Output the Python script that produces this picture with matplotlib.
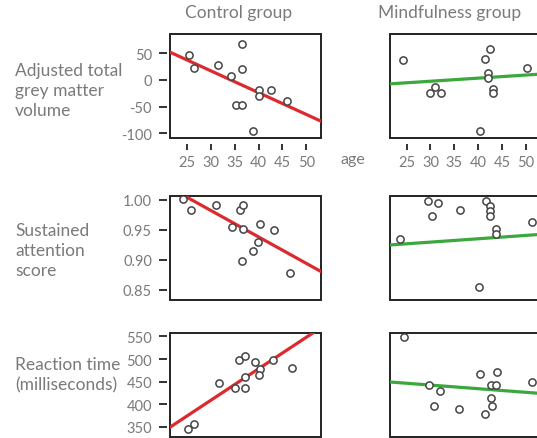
import matplotlib.pyplot as plt
import numpy as np

# ---- data ----
# control group
ctrl_age_gm = [25.4, 26.5, 31.4, 34.3, 36.6, 36.6, 35.2, 36.6, 38.8, 40.0, 40.0, 42.6, 45.9]
ctrl_gm = [47, 23, 27, 8, 68, 21, -47, -48, -95, -19, -30, -19, -39]
ctrl_age_att = [24.2, 25.8, 31.0, 36.0, 36.8, 34.5, 36.7, 40.2, 43.3, 39.8, 38.8, 36.6, 46.6]
ctrl_att = [1.002, 0.982, 0.991, 0.982, 0.991, 0.955, 0.951, 0.959, 0.950, 0.929, 0.914, 0.898, 0.877]
ctrl_age_rt = [25.2, 26.4, 31.6, 35.0, 37.1, 35.9, 37.1, 37.1, 39.3, 40.2, 40.0, 43.1, 47.1]
ctrl_rt = [346, 357, 447, 435, 436, 498, 507, 460, 493, 478, 465, 498, 480]

# mindfulness group
mind_age_gm = [24.3, 29.8, 31.0, 32.2, 41.5, 42.6, 42.0, 42.0, 43.1, 43.1, 40.3, 50.3]
mind_gm = [38, -24, -13, -24, 39, 57, 12, 4, -17, -24, -95, 23]
mind_age_att = [23.7, 29.5, 31.6, 30.3, 36.1, 41.6, 42.6, 42.6, 42.6, 43.7, 43.7, 40.2, 51.3]
mind_att = [0.934, 0.998, 0.994, 0.973, 0.982, 0.998, 0.989, 0.981, 0.972, 0.951, 0.942, 0.854, 0.963]
mind_age_rt = [24.4, 29.6, 31.9, 30.8, 36.0, 40.5, 44.0, 42.7, 43.8, 42.7, 42.9, 41.4, 51.3]
mind_rt = [548, 442, 429, 396, 390, 466, 471, 442, 442, 413, 396, 379, 449]

# fitted lines as drawn: (value at age 21.5, slope per year)
ctrl_fit = [(51.5, -4.08), (1.0194, -0.00441), (350.0, 6.95)]
mind_fit = [(-7.5, 0.58), (0.9244, 0.00056), (449.3, -0.80)]

row_labels = ['Adjusted total\ngrey matter\nvolume', 'Sustained\nattention\nscore',
              'Reaction time\n(milliseconds)']
col_titles = ['Control group', 'Mindfulness group']
age_ticks = [25, 30, 35, 40, 45, 50]
y_ticks = [[-100, -50, 0, 50], [0.85, 0.90, 0.95, 1.00], [350, 400, 450, 500, 550]]
y_ticklabels = [['-100', '-50', '0', '50'], ['0.85', '0.90', '0.95', '1.00'],
                ['350', '400', '450', '500', '550']]
y_lims = [(-109, 86), (0.833, 1.0067), (327, 557)]
x_lim = (21.4, 53.1)

plt.rcParams['font.family'] = ['Lato', 'DejaVu Sans']
gray = '#7a7a7a'
red = '#dc2a2e'
green = '#3aa83c'

fig = plt.figure(figsize=(5.37, 4.39), dpi=100)
W, H = 537.0, 439.0

col_left = [170, 389.5]
row_top = [35, 196.7, 334.3]
ax_w, ax_h = 151, 104

data = [
    [(ctrl_age_gm, ctrl_gm), (ctrl_age_att, ctrl_att), (ctrl_age_rt, ctrl_rt)],
    [(mind_age_gm, mind_gm), (mind_age_att, mind_att), (mind_age_rt, mind_rt)],
]
fits = [ctrl_fit, mind_fit]
colors = [red, green]

for c in range(2):
    for r in range(3):
        ax = fig.add_axes([col_left[c] / W, 1 - (row_top[r] + ax_h) / H, ax_w / W, ax_h / H])
        ages, vals = data[c][r]
        b0, slope = fits[c][r]
        xs = np.array(x_lim)
        ax.plot(xs, b0 + slope * (xs - 21.5), color=colors[c], lw=2.3, zorder=2)
        ax.plot(ages, vals, 'o', mfc='white', mec='#444444', mew=1.1, ms=5.2, zorder=3)
        ax.set_xlim(x_lim)
        ax.set_ylim(y_lims[r])
        for s in ax.spines.values():
            s.set_visible(False)
        ax.patch.set_edgecolor('#222222')
        ax.patch.set_linewidth(1.4)
        ax.spines['left'].set_position(('outward', 2))
        ax.spines['bottom'].set_position(('outward', 4))
        if r == 0:
            ax.set_xticks(age_ticks)
            ax.tick_params(axis='x', length=4, width=1.3, color='#222222',
                           labelcolor=gray, labelsize=10.5, pad=4)
        else:
            ax.set_xticks([])
        if c == 0:
            ax.set_yticks(y_ticks[r])
            ax.set_yticklabels(y_ticklabels[r])
            ax.tick_params(axis='y', length=6, width=1.3, color='#222222',
                           labelcolor=gray, labelsize=10.5, pad=5)
        else:
            ax.set_yticks([])

fig.text(239 / W, 1 - 13 / H, col_titles[0], color=gray, fontsize=12.5, ha='center', va='center')
fig.text(450 / W, 1 - 13 / H, col_titles[1], color=gray, fontsize=12.5, ha='center', va='center')

label_y = [91, 251, 375]
for r in range(3):
    fig.text(15 / W, 1 - label_y[r] / H, row_labels[r], color=gray, fontsize=12.5,
             ha='left', va='center', linespacing=1.32)

fig.text(353 / W, 1 - 160 / H, 'age', color=gray, fontsize=11.5, ha='center', va='center')

fig.savefig('out.png', dpi=100)
